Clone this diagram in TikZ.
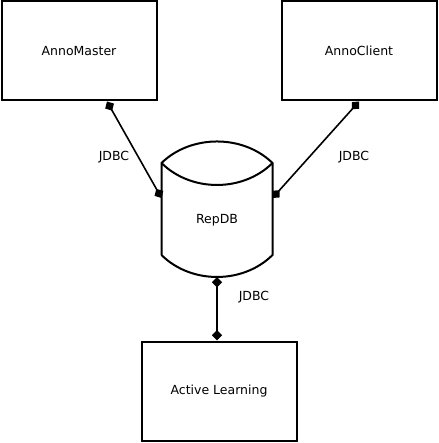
\documentclass[tikz,border=0pt]{standalone}
\usepackage{fontspec}
\setmainfont{DejaVu Sans}
\usetikzlibrary{arrows.meta}

\begin{document}
\begin{tikzpicture}[x=1pt,y=1pt,yscale=-1,xscale=1,
  box/.style={draw,line width=2pt,minimum width=155pt,minimum height=99pt,inner sep=0pt,font=\fontsize{12.5}{14}\selectfont},
  lbl/.style={inner sep=0.75pt,font=\fontsize{12.5}{14}\selectfont},
  jdbc/.style={line width=1.6pt,{Diamond[length=10.5pt,width=10pt]}-{Diamond[length=10.5pt,width=10pt]}}]
\useasboundingbox (0,0) rectangle (438,443);

% Boxes
\node [box] (annomaster) at (79,51) {AnnoMaster};
\node [box] (annoclient) at (359,51) {AnnoClient};
\node [box] (learning) at (219,391) {Active Learning};

% Database
\node [lbl] (repdb) at (217,220) {RepDB};
\coordinate (dbTL) at (161.5,163);
\coordinate (dbTR) at (272.5,163);
\coordinate (dbBL) at (161.5,255);
\coordinate (dbBR) at (272.5,255);
\coordinate (dbB) at (217,277);
\coordinate (dbL) at (161.5,198);
\coordinate (dbR) at (272.5,198);
\draw [line width=2pt] (dbBL) -- (dbTL) .. controls (191,134.3) and (243,134.3) .. (dbTR) -- (dbBR)
  .. controls (243,284.3) and (191,284.3) .. (dbBL);
\draw [line width=2pt] (dbTL) .. controls (191,192.3) and (243,192.3) .. (dbTR);

% Connectors
\draw [jdbc] ([xshift=28pt]annomaster.south) -- (dbL);
\draw [jdbc] (annoclient.south) -- (dbR);
\draw [jdbc] (dbB) -- (dbB |- learning.north);

% Text Node
\node [lbl] (jdbcA) at (114,157) {JDBC};
\node [lbl] (jdbcB) at (354,157) {JDBC};
\node [lbl] (jdbcC) at (254,297) {JDBC};

\end{tikzpicture}
\end{document}
